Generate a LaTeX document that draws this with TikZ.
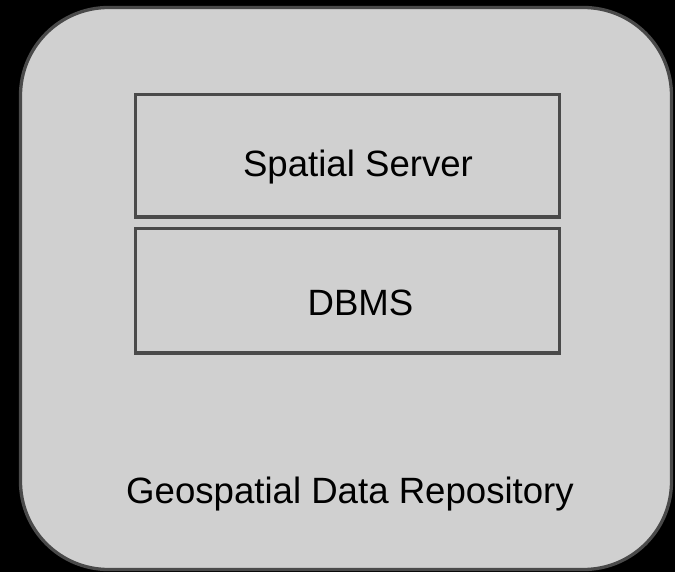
\documentclass[tikz,border=0pt]{standalone}
\usepackage{fontspec}
\setmainfont{Liberation Sans}
\definecolor{panelfill}{HTML}{D0D0D0}
\definecolor{edgegray}{HTML}{4A4A4A}
\begin{document}
\begin{tikzpicture}[x=1pt,y=-1pt,
  panel/.style={draw=edgegray,fill=panelfill,line width=3.3pt,inner sep=0pt,outer sep=0pt},
  layerbox/.style={draw=edgegray,line width=3.4pt,inner sep=0pt,outer sep=0pt},
  label/.style={font=\fontsize{36.6}{40}\selectfont,text=black,anchor=base,inner sep=0pt}]
  % canvas
  \fill[black] (0,0) rectangle (675,572);
  \useasboundingbox (0,0) rectangle (675,572);
  % repository container
  \node[panel,rounded corners=88pt,minimum width=651pt,minimum height=562pt] (repo) at (346,288.5) {};
  % stacked layers
  \node[layerbox,minimum width=424.3pt,minimum height=122.3pt] (server) at (347.35,155.85) {};
  \node[layerbox,minimum width=424.3pt,minimum height=124.1pt] (dbms) at (347.35,290.75) {};
  % captions
  \node[label] (serverlabel) at (358,177) {Spatial Server};
  \node[label] (dbmslabel) at (360.5,316) {DBMS};
  \node[label] (repolabel) at (350,503) {Geospatial Data Repository};
\end{tikzpicture}
\end{document}
